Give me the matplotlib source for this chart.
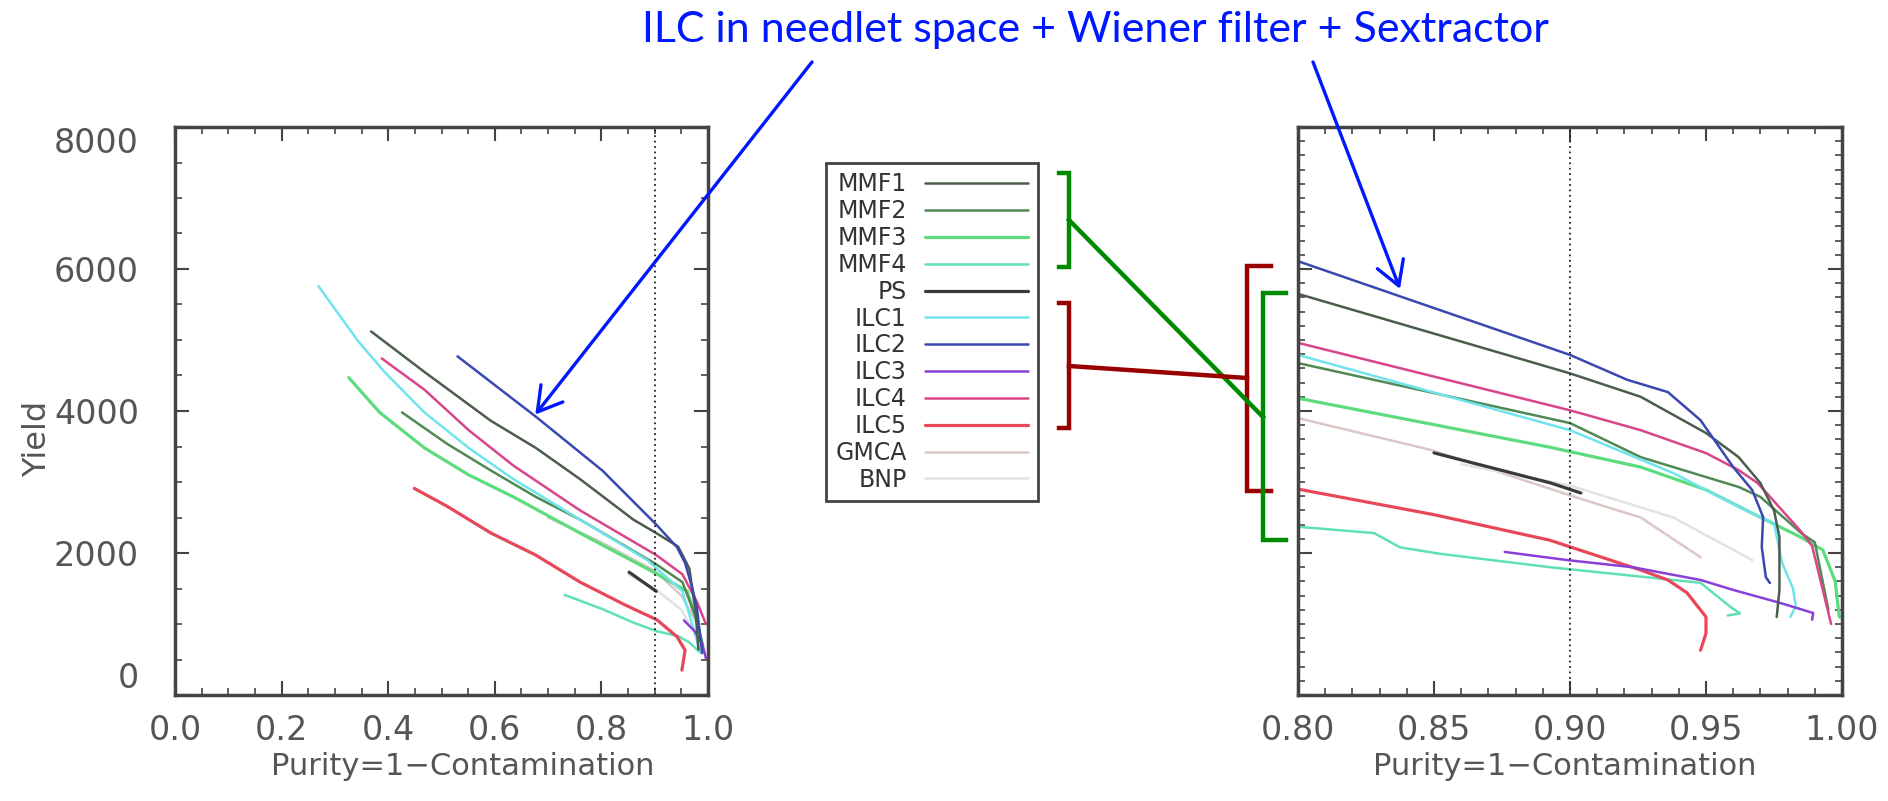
import matplotlib
matplotlib.use('Agg')
import matplotlib.pyplot as plt
from matplotlib.ticker import MultipleLocator
from matplotlib.lines import Line2D

W, H = 1888, 801

names = ['MMF1', 'MMF2', 'MMF3', 'MMF4', 'PS', 'ILC1', 'ILC2', 'ILC3', 'ILC4', 'ILC5', 'GMCA', 'BNP']
colors = ['#4b5e4b', '#4f8a55', '#5cdc7c', '#5fe0b8', '#3a3a3a', '#70e4ee',
          '#3a48b0', '#8a3fd8', '#d8458a', '#e8475a', '#dcc6c6', '#e2e2e2']
widths = [1.8, 1.8, 2.3, 1.8, 2.3, 1.8, 1.8, 1.8, 1.8, 2.3, 1.8, 1.8]

# full purity range
l_mmf1_x = [0.368, 0.468, 0.593, 0.677, 0.760, 0.860, 0.903, 0.944, 0.965, 0.977, 0.982]
l_mmf1_y = [5120, 4550, 3860, 3480, 3040, 2470, 2280, 2090, 1780, 1150, 640]
l_mmf2_x = [0.426, 0.510, 0.593, 0.677, 0.760, 0.903, 0.952, 0.977, 0.990]
l_mmf2_y = [3980, 3540, 3160, 2790, 2470, 1840, 1590, 1100, 700]
l_mmf3_x = [0.326, 0.384, 0.468, 0.551, 0.635, 0.760, 0.903, 0.961, 0.980, 0.990]
l_mmf3_y = [4470, 3980, 3480, 3100, 2790, 2280, 1710, 1460, 1000, 700]
l_mmf4_x = [0.731, 0.802, 0.860, 0.903, 0.944, 0.965, 0.985]
l_mmf4_y = [1410, 1210, 1020, 900, 830, 740, 600]
l_ps_x = [0.852, 0.903]
l_ps_y = [1730, 1460]
l_ilc1_x = [0.269, 0.343, 0.393, 0.468, 0.551, 0.635, 0.760, 0.886, 0.952, 0.977, 0.985]
l_ilc1_y = [5760, 4990, 4550, 3980, 3480, 3040, 2470, 1900, 1460, 830, 600]
l_ilc2_x = [0.530, 0.677, 0.802, 0.903, 0.942, 0.957, 0.970, 0.979, 0.989]
l_ilc2_y = [4770, 3920, 3160, 2400, 2080, 1860, 1520, 1240, 590]
l_ilc3_x = [0.955, 0.975, 0.990, 0.996]
l_ilc3_y = [1050, 900, 700, 520]
l_ilc4_x = [0.388, 0.468, 0.551, 0.635, 0.760, 0.903, 0.952, 0.980, 0.996]
l_ilc4_y = [4740, 4300, 3730, 3230, 2600, 1970, 1700, 1300, 1000]
l_ilc5_x = [0.449, 0.510, 0.593, 0.677, 0.760, 0.844, 0.904, 0.942, 0.957, 0.951]
l_ilc5_y = [2910, 2660, 2280, 1970, 1590, 1270, 1060, 820, 630, 350]
l_gmca_x = [0.70, 0.80, 0.90, 0.95, 0.98]
l_gmca_y = [2500, 2150, 1750, 1400, 1000]
l_bnp_x = [0.85, 0.90, 0.95, 0.98]
l_bnp_y = [1700, 1500, 1200, 800]

# high purity zoom
r_mmf1_x = [0.80, 0.90, 0.926, 0.950, 0.962, 0.970, 0.975, 0.977, 0.977, 0.977, 0.976]
r_mmf1_y = [5650, 4530, 4200, 3690, 3350, 2985, 2600, 2225, 1860, 1480, 1100]
r_mmf2_x = [0.80, 0.90, 0.926, 0.950, 0.962, 0.970, 0.985, 0.990, 0.995]
r_mmf2_y = [4675, 3830, 3350, 3070, 2930, 2790, 2280, 2150, 1200]
r_mmf3_x = [0.80, 0.8926, 0.926, 0.950, 0.967, 0.985, 0.993, 0.9975, 0.999]
r_mmf3_y = [4180, 3490, 3210, 2890, 2560, 2220, 2040, 1600, 1100]
r_mmf4_x = [0.80, 0.828, 0.8375, 0.852, 0.8926, 0.948, 0.959, 0.9625, 0.958]
r_mmf4_y = [2370, 2280, 2080, 1990, 1800, 1580, 1240, 1150, 1120]
r_ps_x = [0.85, 0.893, 0.904]
r_ps_y = [3410, 2985, 2845]
r_ilc1_x = [0.80, 0.90, 0.938, 0.962, 0.975, 0.978, 0.982, 0.983, 0.981]
r_ilc1_y = [4790, 3730, 3125, 2650, 2420, 1860, 1500, 1250, 1100]
r_ilc2_x = [0.80, 0.90, 0.921, 0.936, 0.948, 0.960, 0.967, 0.971, 0.9705, 0.972, 0.9735]
r_ilc2_y = [6110, 4790, 4440, 4266, 3870, 3210, 2886, 2506, 2084, 1661, 1577]
r_ilc3_x = [0.876, 0.899, 0.923, 0.948, 0.960, 0.977, 0.9894, 0.989]
r_ilc3_y = [2015, 1900, 1800, 1620, 1480, 1300, 1155, 1060]
r_ilc4_x = [0.80, 0.90, 0.926, 0.950, 0.962, 0.969, 0.985, 0.989, 0.996]
r_ilc4_y = [4960, 4010, 3730, 3407, 3168, 2985, 2300, 2100, 1000]
r_ilc5_x = [0.80, 0.850, 0.8926, 0.926, 0.936, 0.943, 0.950, 0.950, 0.948]
r_ilc5_y = [2900, 2540, 2180, 1760, 1620, 1440, 1100, 870, 630]
r_gmca_x = [0.80, 0.849, 0.905, 0.926, 0.948]
r_gmca_y = [3900, 3450, 2750, 2500, 1940]
r_bnp_x = [0.86, 0.90, 0.938, 0.967]
r_bnp_y = [3250, 2950, 2500, 1900]

left_data = [(l_mmf1_x, l_mmf1_y), (l_mmf2_x, l_mmf2_y), (l_mmf3_x, l_mmf3_y), (l_mmf4_x, l_mmf4_y),
             (l_ps_x, l_ps_y), (l_ilc1_x, l_ilc1_y), (l_ilc2_x, l_ilc2_y), (l_ilc3_x, l_ilc3_y),
             (l_ilc4_x, l_ilc4_y), (l_ilc5_x, l_ilc5_y), (l_gmca_x, l_gmca_y), (l_bnp_x, l_bnp_y)]
right_data = [(r_mmf1_x, r_mmf1_y), (r_mmf2_x, r_mmf2_y), (r_mmf3_x, r_mmf3_y), (r_mmf4_x, r_mmf4_y),
              (r_ps_x, r_ps_y), (r_ilc1_x, r_ilc1_y), (r_ilc2_x, r_ilc2_y), (r_ilc3_x, r_ilc3_y),
              (r_ilc4_x, r_ilc4_y), (r_ilc5_x, r_ilc5_y), (r_gmca_x, r_gmca_y), (r_bnp_x, r_bnp_y)]

# draw order: faint lines underneath
order = [10, 11, 3, 2, 1, 5, 8, 9, 7, 0, 4, 6]

fig = plt.figure(figsize=(W / 100, H / 100), dpi=100)
ax1 = fig.add_axes([175 / W, 1 - 695 / H, 533 / W, 568 / H])
ax2 = fig.add_axes([1298 / W, 1 - 695 / H, 544 / W, 568 / H])

handles = [None] * len(names)
for ax, data in ((ax1, left_data), (ax2, right_data)):
    for i in order:
        x, y = data[i]
        ln, = ax.plot(x, y, color=colors[i], lw=widths[i], label=names[i], solid_capstyle='round')
        handles[i] = ln
    ax.axvline(0.9, color='#222222', ls=(0, (1, 2)), lw=1.3)
    ax.set_ylim(0, 8000)
    ax.tick_params(which='both', direction='in', top=True, right=True,
                   color='#444444', labelcolor='#555555', labelsize=24)
    ax.tick_params(which='major', length=10, width=1.5)
    ax.tick_params(which='minor', length=5, width=1.2)
    ax.tick_params(axis='x', pad=14)
    ax.tick_params(axis='y', pad=26)
    for s in ax.spines.values():
        s.set_linewidth(2.5)
        s.set_color('#444444')
    ax.set_xlabel('Purity=1\u2212Contamination', fontsize=22, color='#555555')

ax1.set_xlim(0, 1)
ax1.xaxis.set_minor_locator(MultipleLocator(0.05))
ax1.set_xticks([0, 0.2, 0.4, 0.6, 0.8, 1.0])
ax1.set_xticklabels(['0.0', '0.2', '0.4', '0.6', '0.8', '1.0'])
ax1.set_yticks([0, 2000, 4000, 6000, 8000])
ax1.yaxis.set_minor_locator(MultipleLocator(500))
ylabs = ax1.get_yticklabels()
ylabs[0].set_va('bottom')
ylabs[-1].set_va('top')
ax1.set_ylabel('Yield', fontsize=23, color='#555555')
ax1.yaxis.set_label_coords(-0.228, 0.45)
ax1.xaxis.set_label_coords(0.54, -0.10)

ax2.set_xlim(0.8, 1.0)
ax2.set_xticks([0.80, 0.85, 0.90, 0.95, 1.00])
ax2.set_xticklabels(['0.80', '0.85', '0.90', '0.95', '1.00'])
ax2.xaxis.set_minor_locator(MultipleLocator(0.01))
ax2.set_yticks([0, 2000, 4000, 6000, 8000])
ax2.yaxis.set_minor_locator(MultipleLocator(200))
ax2.set_yticklabels([])
ax2.xaxis.set_label_coords(0.49, -0.10)

leg = ax1.legend(handles=handles, labels=names, loc='upper left',
                 bbox_to_anchor=(826 / W, 1 - 163 / H), bbox_transform=fig.transFigure,
                 markerfirst=False, fontsize=17, handlelength=4.4, handletextpad=0.75,
                 borderpad=0.4, labelspacing=0.12, borderaxespad=0,
                 fancybox=False, framealpha=1, edgecolor='#444444')
leg.get_frame().set_linewidth(2)
for t in leg.get_texts():
    t.set_color('#333333')


def fig_line(xs, ys, color, lw=3.2):
    fig.add_artist(Line2D([x / W for x in xs], [1 - y / H for y in ys],
                          color=color, lw=lw, solid_joinstyle='miter'))


def bracket(x0, y0, y1, arm, color):
    fig_line([x0 + arm, x0, x0, x0 + arm], [y0, y0, y1, y1], color)


green = '#008a00'
red = '#990000'
bracket(1069, 173, 267, -10, green)
bracket(1069, 303, 428, -10, red)
bracket(1247, 266, 491, 24, red)
bracket(1263, 293, 540, 23, green)
fig_line([1069, 1263], [220, 417], green)
fig_line([1069, 1247], [366, 378], red)

blue = '#0018ff'
fig.text(1095 / W, 1 - 42 / H, 'ILC in needlet space + Wiener filter + Sextractor',
         ha='center', va='baseline', fontsize=31, color=blue, family='Lato')

arrow = dict(arrowstyle='->,head_length=0.85,head_width=0.5', mutation_scale=20,
             lw=2.4, color=blue, shrinkA=0, shrinkB=0)
ax1.annotate('', xy=(0.676, 3950), xycoords='data',
             xytext=(812 / W, 1 - 62 / H), textcoords='figure fraction', arrowprops=arrow)
ax2.annotate('', xy=(0.8375, 5720), xycoords='data',
             xytext=(1313 / W, 1 - 62 / H), textcoords='figure fraction', arrowprops=arrow)

fig.savefig('out.png', dpi=100)
